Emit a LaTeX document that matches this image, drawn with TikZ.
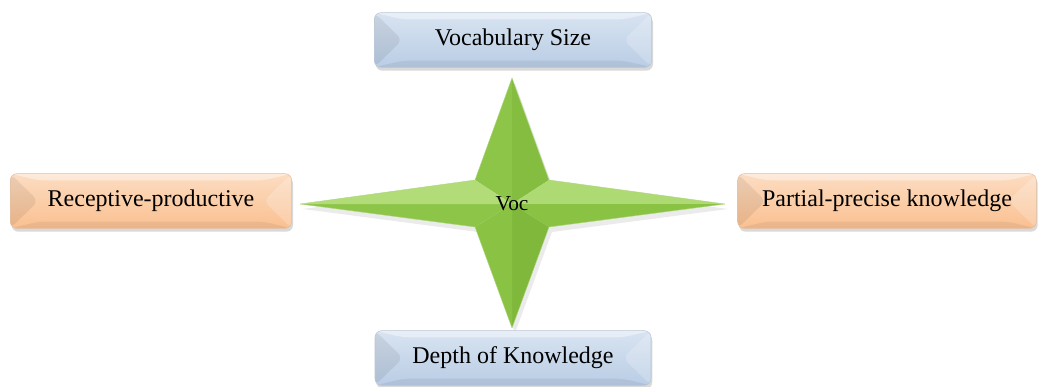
\documentclass[tikz,border=0pt]{standalone}
\usepackage{fontspec}
\setmainfont{Liberation Serif}
\usetikzlibrary{shadows}
\usetikzlibrary{positioning}

\definecolor{kastenblau}{HTML}{B9CDE5}
\definecolor{kastenorange}{HTML}{FAC090}
\definecolor{gruenA}{HTML}{8DC549}
\definecolor{gruenB}{HTML}{85BD40}
\definecolor{gruenC}{HTML}{B2DC78}
\definecolor{gruenD}{HTML}{8AC343}
\definecolor{gruenE}{HTML}{7FB83B}

\begin{document}
\begin{tikzpicture}[x=0.75pt,y=-0.75pt,
kasten/.style={
  rectangle,
  rounded corners=5pt,
  minimum height=41pt,
  text centered,
  font=\fontsize{18}{21}\selectfont,
  draw=#1!85!black!70,
  top color=#1!55!white,
  bottom color=#1,
  drop shadow={shadow xshift=1pt,shadow yshift=-2.5pt,opacity=0.3},
  path picture={
    \coordinate (nw) at (path picture bounding box.north west);
    \coordinate (ne) at (path picture bounding box.north east);
    \coordinate (sw) at (path picture bounding box.south west);
    \coordinate (se) at (path picture bounding box.south east);
    \coordinate (inw) at ([xshift=21pt,yshift=-5pt]nw);
    \coordinate (ine) at ([xshift=-21pt,yshift=-5pt]ne);
    \coordinate (isw) at ([xshift=21pt,yshift=5pt]sw);
    \coordinate (ise) at ([xshift=-21pt,yshift=5pt]se);
    \fill[white,opacity=.40] (nw) -- (ne) -- (ine) -- (inw) -- cycle;
    \fill[black,opacity=.07] (nw) -- ([xshift=21pt]path picture bounding box.west) -- (sw) -- cycle;
    \fill[white,opacity=.20] (ne) -- ([xshift=-21pt]path picture bounding box.east) -- (se) -- cycle;
    \fill[black,opacity=.06] (sw) -- (isw) -- (ise) -- (se) -- cycle;
  }
},
zacke/.style={
  draw=gruenA!70!white,
  line width=0.3pt,
  line join=round
}]
\useasboundingbox (0,0) rectangle (1038,386);

% Stern in der Mitte
\coordinate (mitte) at (512,204);
\coordinate (spitzeO) at (512,78);
\coordinate (spitzeU) at (512,328);
\coordinate (spitzeL) at (300,204);
\coordinate (spitzeR) at (725,204);
\coordinate (ilo) at (475,180);
\coordinate (iro) at (549,180);
\coordinate (ilu) at (475,227);
\coordinate (iru) at (549,227);

\fill[black,opacity=.08] ([shift={(3,5)}]spitzeO) -- ([shift={(3,5)}]iro) -- ([shift={(3,5)}]spitzeR)
  -- ([shift={(3,5)}]iru) -- ([shift={(3,5)}]spitzeU) -- ([shift={(3,5)}]ilu)
  -- ([shift={(3,5)}]spitzeL) -- ([shift={(3,5)}]ilo) -- cycle;

\fill[gruenA] (mitte) -- (ilo) -- (spitzeO) -- cycle;
\fill[gruenB] (mitte) -- (spitzeO) -- (iro) -- cycle;
\fill[gruenC!90!gruenA] (mitte) -- (iro) -- (spitzeR) -- cycle;
\fill[gruenD] (mitte) -- (spitzeR) -- (iru) -- cycle;
\fill[gruenE] (mitte) -- (iru) -- (spitzeU) -- cycle;
\fill[gruenD] (mitte) -- (spitzeU) -- (ilu) -- cycle;
\fill[gruenA] (mitte) -- (ilu) -- (spitzeL) -- cycle;
\fill[gruenC] (mitte) -- (spitzeL) -- (ilo) -- cycle;
\draw[zacke] (spitzeO) -- (iro) -- (spitzeR) -- (iru) -- (spitzeU) -- (ilu) -- (spitzeL) -- (ilo) -- cycle;

\node[font=\fontsize{16}{19}\selectfont] (voc) at (mitte) {Voc};

% Kaesten
\node[kasten=kastenblau, minimum width=208pt] (groesse) at (513,40) {Vocabulary Size};
\node[kasten=kastenblau, minimum width=207pt] (tiefe) at (513,358) {Depth of Knowledge};
\node[kasten=kastenorange, minimum width=211pt] (rezprod) at (151,201) {Receptive-productive};
\node[kasten=kastenorange, minimum width=224pt] (partiell) at (887,201) {Partial-precise knowledge};

\end{tikzpicture}
\end{document}
